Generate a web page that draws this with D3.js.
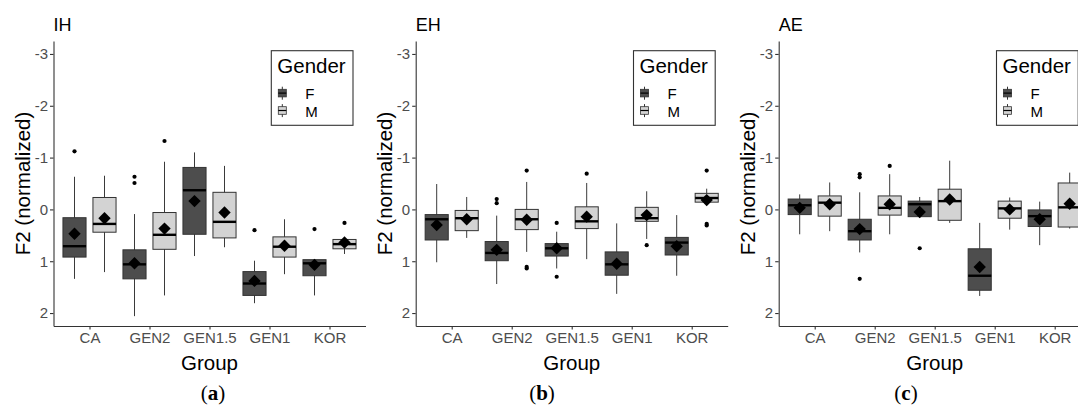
<!DOCTYPE html>
<html>
<head>
<meta charset="utf-8">
<script src="https://cdn.jsdelivr.net/npm/d3@7"></script>
<style>
	body { margin: 0; background: #fff; }
	svg text { font-family: "Liberation Sans", Arial, sans-serif; }
</style>
</head>
<body>
<svg id="chart" width="1078" height="405"></svg>
<script>

var groups = ['CA', 'GEN2', 'GEN1.5', 'GEN1', 'KOR'];
var genders = ['F', 'M'];
var panelTitles = ['IH', 'EH', 'AE'];
var panelLetters = ['a', 'b', 'c'];
var yTicks = [-3, -2, -1, 0, 1, 2];
var yLimits = [-3, 2];

// box order: CA F, CA M, GEN2 F, GEN2 M, GEN1.5 F, GEN1.5 M, GEN1 F, GEN1 M, KOR F, KOR M
// [low whisker, q1, median, q3, high whisker]
var ihBoxes = [
	[-0.63, 0.16, 0.71, 0.92, 1.34], [-0.65, -0.23, 0.28, 0.44, 1.21],
	[0.09, 0.78, 1.06, 1.34, 2.06], [-0.92, 0.06, 0.49, 0.77, 1.66],
	[-1.10, -0.81, -0.37, 0.48, 0.90], [-0.84, -0.33, 0.24, 0.55, 0.73],
	[0.99, 1.20, 1.43, 1.66, 1.81], [0.19, 0.53, 0.72, 0.92, 1.25],
	[0.96, 0.97, 1.04, 1.28, 1.66], [0.54, 0.58, 0.67, 0.76, 0.86]
];
var ihMeans = [0.47, 0.17, 1.04, 0.37, -0.16, 0.06, 1.38, 0.70, 1.07, 0.64];
var ihOutliers = [[0, -1.12], [2, -0.63], [2, -0.51], [3, -1.32], [6, 0.40], [8, 0.38], [9, 0.26]];

var ehBoxes = [
	[-0.49, 0.10, 0.19, 0.59, 1.02], [-0.24, 0.02, 0.17, 0.41, 0.55],
	[0.12, 0.62, 0.84, 0.99, 1.44], [-0.53, 0.00, 0.19, 0.39, 0.82],
	[0.43, 0.66, 0.75, 0.90, 1.14], [-0.51, -0.05, 0.23, 0.37, 0.96],
	[0.27, 0.82, 1.06, 1.27, 1.63], [-0.35, -0.04, 0.17, 0.23, 0.57],
	[0.11, 0.54, 0.64, 0.88, 1.28], [-0.40, -0.31, -0.22, -0.14, -0.10]
];
var ehMeans = [0.30, 0.19, 0.78, 0.20, 0.75, 0.14, 1.05, 0.11, 0.71, -0.18];
var ehOutliers = [[2, -0.20], [2, -0.12], [3, -0.75], [3, 1.11], [3, 1.14], [4, 0.26], [4, 1.30],
	[5, -0.69], [7, 0.69], [9, -0.75], [9, 0.28], [9, 0.31]];

var aeBoxes = [
	[-0.29, -0.20, -0.08, 0.10, 0.48], [-0.52, -0.26, -0.13, 0.13, 0.42],
	[-0.33, 0.19, 0.42, 0.59, 0.83], [-0.68, -0.26, -0.03, 0.11, 0.48],
	[-0.24, -0.16, -0.10, 0.14, 0.16], [-0.94, -0.39, -0.16, 0.21, 0.26],
	[0.26, 0.76, 1.28, 1.56, 1.67], [-0.23, -0.16, -0.02, 0.17, 0.39],
	[-0.15, 0.01, 0.13, 0.33, 0.69], [-0.71, -0.51, -0.04, 0.34, 0.37]
];
var aeMeans = [-0.03, -0.10, 0.38, -0.10, 0.05, -0.19, 1.11, 0.00, 0.19, -0.11];
var aeOutliers = [[2, -0.68], [2, -0.62], [2, 1.34], [3, -0.84], [4, 0.75]];

var panelBoxes = [ihBoxes, ehBoxes, aeBoxes];
var panelMeans = [ihMeans, ehMeans, aeMeans];
var panelOutliers = [ihOutliers, ehOutliers, aeOutliers];

// layout
var panelLeft = [53.5, 415.7, 778.7];
var letterX = [213, 542, 906];
var panelW = 312;
var plotTop = 41, plotBottom = 326;
var fills = { F: '#4d4d4d', M: '#d3d3d3' };

var svg = d3.select('#chart');

// ylim(2, -3) reversed with 5% expansion
var pad = (yLimits[1] - yLimits[0]) * 0.05;
var y = d3.scaleLinear()
	.domain([yLimits[0] - pad, yLimits[1] + pad])
	.range([plotTop, plotBottom]);

panelTitles.forEach(function(title, p) {

	var L = panelLeft[p];
	var x = d3.scalePoint().domain(groups).range([L, L + panelW]).padding(0.6);
	var step = x.step();
	var g = svg.append('g');

	var boxX = function(i) {
		var grp = groups[Math.floor(i / 2)];
		var off = (i % 2 === 0) ? -0.25 : 0.25;
		return x(grp) + off * step;
	};
	var bw = 0.385 * step;

	// axes
	var yAxis = g.append('g')
		.attr('transform', 'translate(' + L + ',0)')
		.call(d3.axisLeft(y).tickValues(yTicks).tickFormat(function(d) { return String(d); })
			.tickSize(3.5).tickSizeOuter(0).tickPadding(2));
	var xAxis = g.append('g')
		.attr('transform', 'translate(0,' + plotBottom + ')')
		.call(d3.axisBottom(x).tickSize(3.5).tickSizeOuter(0).tickPadding(3));
	[yAxis, xAxis].forEach(function(ax) {
		ax.selectAll('path, line').attr('stroke', '#333').attr('stroke-width', 1.1);
		ax.selectAll('text').attr('fill', '#4d4d4d').style('font-size', '15px')
			.style('font-family', '"Liberation Sans", Arial, sans-serif');
	});

	var boxes = panelBoxes[p];

	// whiskers
	g.selectAll('.whisk').data(boxes).enter().append('line')
		.attr('x1', function(d, i) { return boxX(i); })
		.attr('x2', function(d, i) { return boxX(i); })
		.attr('y1', function(d) { return y(d[0]); })
		.attr('y2', function(d) { return y(d[4]); })
		.attr('stroke', '#3a3a3a').attr('stroke-width', 1);

	g.selectAll('.box').data(boxes).enter().append('rect')
		.attr('x', function(d, i) { return boxX(i) - bw / 2; })
		.attr('y', function(d) { return y(d[1]); })
		.attr('width', bw)
		.attr('height', function(d) { return y(d[3]) - y(d[1]); })
		.attr('fill', function(d, i) { return fills[genders[i % 2]]; })
		.attr('stroke', '#333').attr('stroke-width', 1);

	g.selectAll('.med').data(boxes).enter().append('line')
		.attr('x1', function(d, i) { return boxX(i) - bw / 2; })
		.attr('x2', function(d, i) { return boxX(i) + bw / 2; })
		.attr('y1', function(d) { return y(d[2]); })
		.attr('y2', function(d) { return y(d[2]); })
		.attr('stroke', '#000').attr('stroke-width', 2.4);

	g.selectAll('.out').data(panelOutliers[p]).enter().append('circle')
		.attr('cx', function(d) { return boxX(d[0]); })
		.attr('cy', function(d) { return y(d[1]); })
		.attr('r', 2.1)
		.attr('fill', '#000');

	g.selectAll('.mean').data(panelMeans[p]).enter().append('path')
		.attr('d', d3.symbol().type(d3.symbolDiamond2).size(98))
		.attr('transform', function(d, i) { return 'translate(' + boxX(i) + ',' + y(d) + ')'; })
		.attr('fill', '#000');

	// titles
	g.append('text').attr('x', L).attr('y', 30.5)
		.style('font-size', '18px').attr('fill', '#000').text(title);

	g.append('text').attr('x', L + panelW / 2).attr('y', 369.5)
		.attr('text-anchor', 'middle').style('font-size', '20.5px').text('Group');

	g.append('text')
		.attr('transform', 'translate(' + (L - 24) + ',' + ((plotTop + plotBottom) / 2) + ') rotate(-90)')
		.attr('text-anchor', 'middle').style('font-size', '20.5px').text('F2 (normalized)');

	var lab = g.append('text').attr('x', letterX[p]).attr('y', 400)
		.attr('text-anchor', 'middle')
		.style('font-family', '"Liberation Serif", "DejaVu Serif", serif')
		.style('font-size', '21px');
	lab.append('tspan').text('(');
	lab.append('tspan').style('font-weight', 'bold').text(panelLetters[p]);
	lab.append('tspan').text(')');

	// legend
	var lx = L + panelW - 12.5 - 81.7;
	var leg = g.append('g').attr('transform', 'translate(' + lx + ',50.7)');
	leg.append('rect').attr('width', 81.7).attr('height', 74.6)
		.attr('fill', '#fff').attr('stroke', '#333').attr('stroke-width', 1.1);
	leg.append('text').attr('x', 6).attr('y', 22.6).style('font-size', '20.5px').text('Gender');

	var keys = leg.selectAll('.key').data(genders).enter().append('g')
		.attr('transform', function(d, i) { return 'translate(7,' + (36 + i * 17.4) + ')'; });
	keys.append('line').attr('x1', 4).attr('x2', 4).attr('y1', 0).attr('y2', 13)
		.attr('stroke', '#333').attr('stroke-width', 1);
	keys.append('rect').attr('x', 0).attr('y', 2.6).attr('width', 8).attr('height', 7.6)
		.attr('fill', function(d) { return fills[d]; })
		.attr('stroke', '#333').attr('stroke-width', 0.8);
	keys.append('line').attr('x1', 0).attr('x2', 8).attr('y1', 6.4).attr('y2', 6.4)
		.attr('stroke', '#000').attr('stroke-width', 1.2);
	keys.append('text').attr('x', 27).attr('y', 12.4).style('font-size', '15px')
		.text(function(d) { return d; });
});

</script>
</body>
</html>
